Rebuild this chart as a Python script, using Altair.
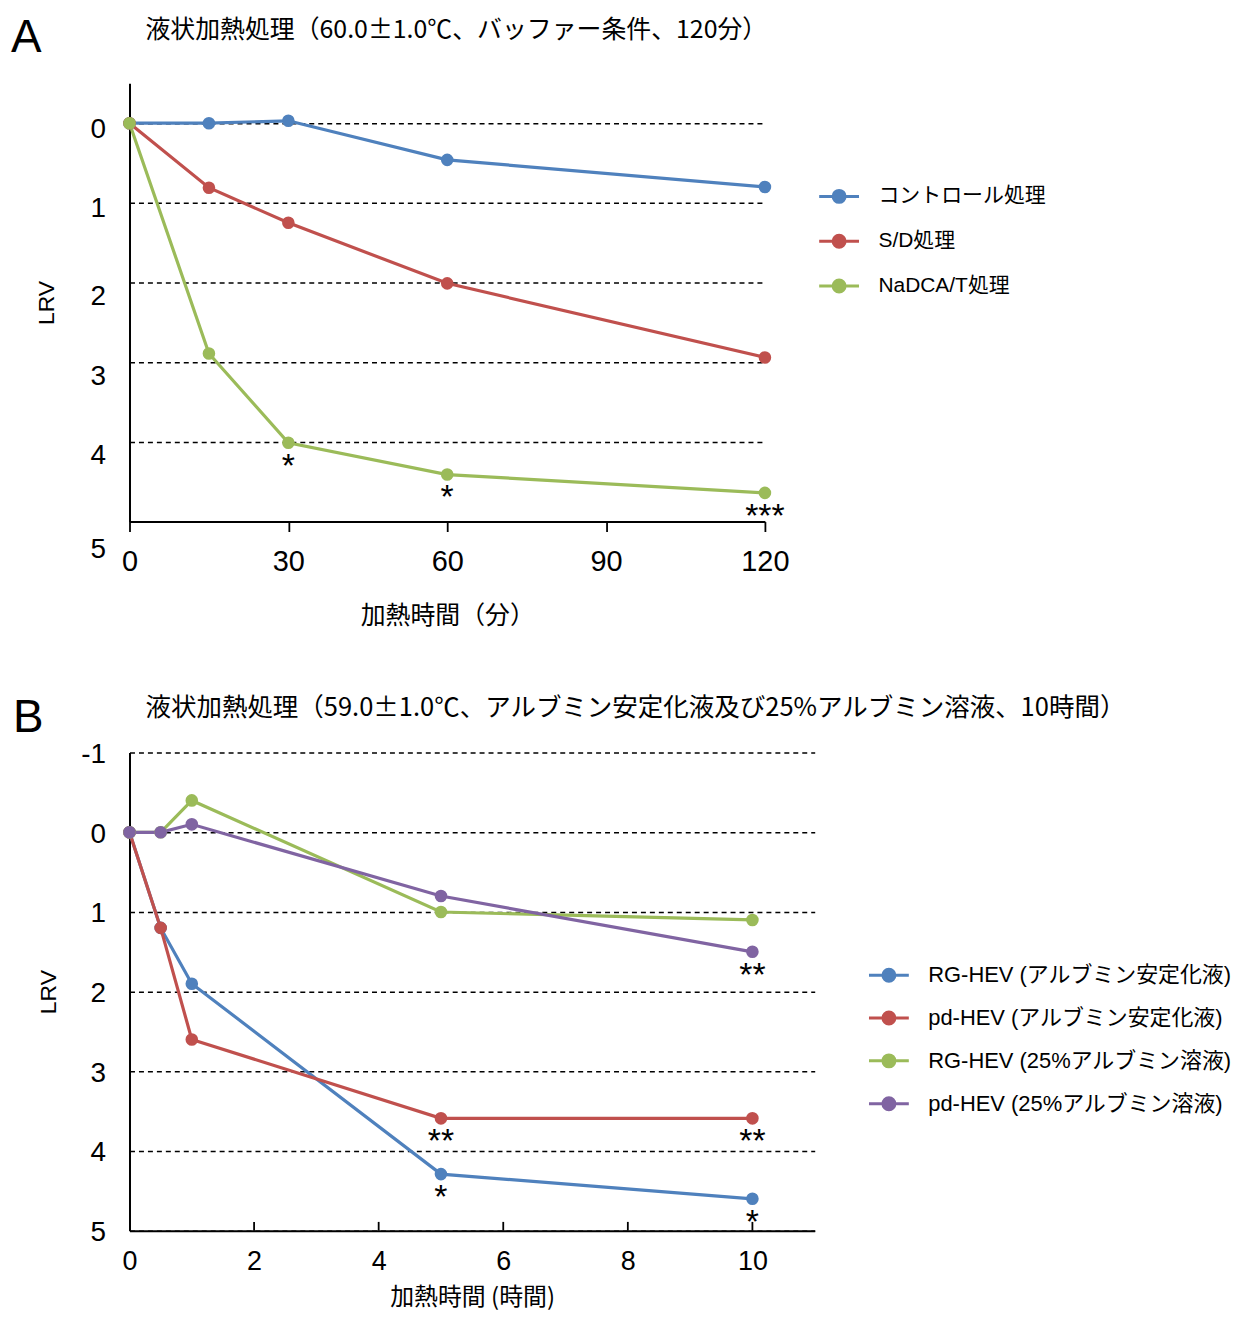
import altair as alt
import pandas as pd

# ---------------- Panel A data ----------------
a_time = [0, 15, 30, 60, 120]
a_series = ["コントロール処理", "S/D処理", "NaDCA/T処理"]
a_control = [0, 0, -0.03, 0.46, 0.80]
a_sd = [0, 0.81, 1.25, 2.01, 2.94]
a_nadca = [0, 2.89, 4.01, 4.41, 4.64]
a_colors = ["#4F81BD", "#C0504D", "#9BBB59"]
a_xticks = [0, 30, 60, 90, 120]
a_yticks = [0, 1, 2, 3, 4, 5]
a_star_x = [30, 60, 120]
a_star_y = [4.01, 4.41, 4.64]
a_star_lbl = ["*", "*", "***"]
a_title = "液状加熱処理（60.0±1.0℃、バッファー条件、120分）"
a_xtitle = "加熱時間（分）"

# ---------------- Panel B data ----------------
b_time = [0, 0.5, 1, 5, 10]
b_series = ["RG-HEV (アルブミン安定化液)", "pd-HEV (アルブミン安定化液)",
            "RG-HEV (25%アルブミン溶液)", "pd-HEV (25%アルブミン溶液)"]
b_rg_alb = [0, 1.2, 1.9, 4.29, 4.6]
b_pd_alb = [0, 1.2, 2.6, 3.59, 3.59]
b_rg_25 = [0, 0, -0.4, 1.0, 1.1]
b_pd_25 = [0, 0, -0.1, 0.8, 1.5]
b_colors = ["#4F81BD", "#C0504D", "#9BBB59", "#8064A2"]
b_xticks = [0, 2, 4, 6, 8, 10]
b_yticks = [-1, 0, 1, 2, 3, 4, 5]
b_star_x = [10, 5, 10, 5, 10]
b_star_y = [1.5, 3.59, 3.59, 4.29, 4.6]
b_star_lbl = ["**", "**", "**", "*", "*"]
b_title = "液状加熱処理（59.0±1.0℃、アルブミン安定化液及び25%アルブミン溶液、10時間）"
b_xtitle = "加熱時間 (時間)"

LATIN = "'Liberation Sans', Arial, 'Noto Sans CJK JP'"
CJK = "'Noto Sans CJK JP'"
SYMBOL = "M-1,0H1M0.3,0A0.3,0.3,0,1,1,-0.3,0A0.3,0.3,0,1,1,0.3,0Z"


def long_df(times, series, values):
    rows = []
    for s, vals in zip(series, values):
        for t, v in zip(times, vals):
            rows.append({"t": t, "v": v, "s": s})
    return pd.DataFrame(rows)


def panel(df, series, colors, xdom, xticks, ydom, yticks, xtitle, title,
          title_y, title_size, stars, label, label_x, label_y, width, height,
          legend_x, legend_y, legend_font, row_pad, xaxis_kw, ylabel_offset,
          ytitle_pad, inner_ticks=None):
    x = alt.X("t:Q", scale=alt.Scale(domain=xdom, nice=False, zero=False),
              axis=alt.Axis(values=xticks, title=xtitle, grid=False, labelFlush=False,
                            labelFont=LATIN, labelColor="black",
                            titleFont=CJK, titleFontWeight="normal",
                            titleColor="black", domainColor="black", domainWidth=2,
                            tickColor="black", tickWidth=1.8, **xaxis_kw))
    y = alt.Y("v:Q", scale=alt.Scale(domain=ydom, reverse=True, nice=False, zero=False),
              axis=alt.Axis(values=yticks, title="LRV", grid=True, gridDash=[5, 4],
                            gridColor="black", gridWidth=1.5, ticks=False, tickSize=0,
                            labelFlush=False, labelExpr="'' + datum.value",
                            labelFont=LATIN, labelFontSize=28, labelColor="black",
                            labelPadding=24, labelOffset=ylabel_offset,
                            titleFont=LATIN, titleFontSize=23, titleFontWeight="normal",
                            titleColor="black", titlePadding=ytitle_pad,
                            domainColor="black", domainWidth=2))
    color = alt.Color("s:N", scale=alt.Scale(domain=series, range=colors),
                      legend=alt.Legend(title=None, orient="none", legendX=legend_x,
                                        legendY=legend_y, symbolType=SYMBOL,
                                        symbolSize=1600, symbolStrokeWidth=3,
                                        symbolOpacity=1, labelFont=LATIN,
                                        labelFontSize=legend_font, labelColor="black",
                                        labelOffset=18, labelLimit=500,
                                        rowPadding=row_pad))
    lines = alt.Chart(df).mark_line(strokeWidth=3.2).encode(x=x, y=y, color=color)
    points = alt.Chart(df).mark_circle(size=160, opacity=1).encode(x=x, y=y, color=color)
    star_df = pd.DataFrame({"t": stars[0], "v": stars[1], "l": stars[2]})
    star_txt = alt.Chart(star_df).mark_text(font=LATIN, fontSize=34, dy=24,
                                            color="black", baseline="middle").encode(
        x=x, y=y, text="l:N")
    lab_df = pd.DataFrame({"p": [label], "h": [title]})
    lab = alt.Chart(lab_df).mark_text(font=LATIN, fontSize=46, align="left",
                                      baseline="middle", color="black").encode(
        x=alt.value(label_x), y=alt.value(label_y), text="p:N")
    head = alt.Chart(lab_df).mark_text(font=CJK, fontSize=title_size, align="left",
                                       baseline="middle", color="black").encode(
        x=alt.value(16), y=alt.value(title_y), text="h:N")
    layers = [lines, points, star_txt, lab, head]
    if inner_ticks is not None:
        tick_df = pd.DataFrame({"t": inner_ticks})
        tk = alt.Chart(tick_df).mark_rule(color="black", strokeWidth=1.8).encode(
            x=x, y=alt.datum(ydom[1]), y2=alt.datum(ydom[1] - 0.11))
        layers.append(tk)
    return alt.layer(*layers).properties(width=width, height=height)


dfA = long_df(a_time, a_series, [a_control, a_sd, a_nadca])
dfB = long_df(b_time, b_series, [b_rg_alb, b_pd_alb, b_rg_25, b_pd_25])

offA = {"condition": [{"test": "datum.value == 5", "value": 28},
                      {"test": "datum.value >= 2", "value": 14}], "value": 6}

chartA = panel(dfA, a_series, a_colors, [0, 120], a_xticks, [-0.5, 5], a_yticks,
               a_xtitle, a_title, -54, 25, (a_star_x, a_star_y, a_star_lbl),
               "A", -119, -45, 638, 440, 691, 92, 21, 11,
               dict(ticks=True, tickSize=10, labelFontSize=29, labelPadding=16,
                    titlePadding=27, titleFontSize=25),
               offA, 32)
chartB = panel(dfB, b_series, b_colors, [0, 11], b_xticks, [-1, 5], b_yticks,
               b_xtitle, b_title, -45, 25.6, (b_star_x, b_star_y, b_star_lbl),
               "B", -117, -35, 688, 480, 741, 202, 22, 9,
               dict(ticks=False, tickSize=0, labelFontSize=27, labelPadding=18,
                    titlePadding=11, titleFontSize=24),
               2, 20, inner_ticks=b_xticks[1:])

chart = alt.vconcat(chartA, chartB, spacing=67).resolve_scale(
    color="independent", x="independent", y="independent"
).properties(
    padding={"left": 3, "top": 5, "right": 0, "bottom": 0}
).configure(background="white").configure_view(stroke="transparent", strokeWidth=0)

chart.save("out.html", embed_options={"renderer": "svg", "actions": False})
